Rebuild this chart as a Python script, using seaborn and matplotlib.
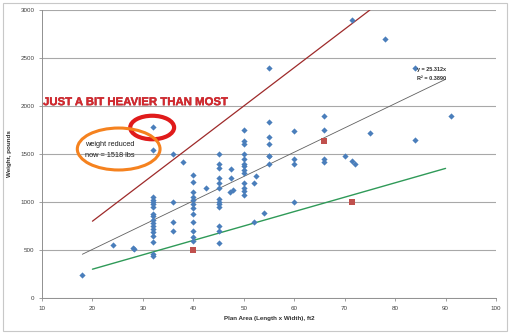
import matplotlib
matplotlib.use("Agg")
import matplotlib.pyplot as plt
import matplotlib.patheffects as pe
import seaborn as sns
import pandas as pd
from matplotlib.patches import Ellipse, Rectangle

# ---- data ----
area = [18, 24, 28, 28.3,
        32, 32, 32, 32, 32, 32, 32, 32, 32, 32, 32, 32, 32, 32, 32, 32, 32, 32,
        36, 36, 36, 36, 38,
        40, 40, 40, 40, 40, 40, 40, 40, 40, 40, 40, 40,
        42.5,
        45, 45, 45, 45, 45, 45, 45, 45, 45, 45, 45, 45, 45,
        47.4, 47.4, 47.3, 47.9,
        50, 50, 50, 50, 50, 50, 50, 50, 50, 50, 50, 50, 50,
        52, 52, 52.5, 54,
        55, 55, 55, 55, 55, 55, 55,
        60, 60, 60, 60,
        66, 66, 66, 66,
        70, 71.4, 72, 71.5, 75, 78, 84, 84, 91]
weight = [235, 550, 520, 510,
          1780, 1545, 1050, 1025, 1000, 975, 950, 875, 850, 815, 785, 750, 720, 685, 650, 580, 460, 440,
          1500, 1000, 790, 695, 1420,
          1280, 1210, 1100, 1050, 1020, 980, 940, 880, 790, 700, 640, 590,
          1150,
          1500, 1400, 1350, 1250, 1200, 1150, 1030, 1000, 975, 945, 750, 700, 570,
          1345, 1255, 1105, 1120,
          1750, 1640, 1600, 1500, 1450, 1400, 1370, 1330, 1300, 1200, 1150, 1110, 1070,
          1200, 790, 1275, 890,
          2400, 1830, 1675, 1605, 1480, 1400, 1480,
          1740, 1450, 1400, 1000,
          1900, 1750, 1450, 1420,
          1480, 1425, 1400, 2900, 1720, 2700, 2400, 1650, 1900]

red_area = [40, 66, 71.5]
red_weight = [495, 1635, 1000]

upper_x = [20, 75]
upper_y = [800, 3000]
lower_x = [20, 90]
lower_y = [300, 1350]
trend_x = [18, 90]
trend_slope = 25.312
trend_y = [trend_slope * v for v in trend_x]

x_ticks = [10, 20, 30, 40, 50, 60, 70, 80, 90, 100]
y_ticks = [0, 500, 1000, 1500, 2000, 2500, 3000]

sns.set_theme(style="white")
plt.rcParams['font.family'] = ['Liberation Sans', 'DejaVu Sans']

fig = plt.figure(figsize=(5.12, 3.34), dpi=100)
ax = fig.add_axes([42/512, 36/334, 454/512, 288/334])

# outer chart border
fig.patches.append(Rectangle((3/512, 3/334), 504/512, 328/334, transform=fig.transFigure,
                             fill=False, edgecolor='#c8c8c8', linewidth=0.8))

df = pd.DataFrame({'area': area, 'weight': weight})
dr = pd.DataFrame({'area': red_area, 'weight': red_weight})

sns.lineplot(x=upper_x, y=upper_y, ax=ax, color='#9e2a2a', linewidth=0.9)
sns.lineplot(x=lower_x, y=lower_y, ax=ax, color='#2f9a58', linewidth=1.0)
sns.lineplot(x=trend_x, y=trend_y, ax=ax, color='#606060', linewidth=0.6)

sns.scatterplot(data=df, x='area', y='weight', ax=ax, marker='D', s=10,
                color='#4a7ebb', linewidth=0, zorder=3)
sns.scatterplot(data=dr, x='area', y='weight', ax=ax, marker='s', s=16,
                color='#c0504d', linewidth=0, zorder=3)

ax.set_xlim(10, 100)
ax.set_ylim(0, 3000)
ax.set_xticks(x_ticks)
ax.set_yticks(y_ticks)
ax.set_xticklabels([str(v) for v in x_ticks], fontsize=4.5, color='#404040')
ax.set_yticklabels([str(v) for v in y_ticks], fontsize=4.5, color='#404040')
ax.tick_params(axis='both', length=2.5, width=0.6, color='#909090', pad=3,
               bottom=True, left=True, direction='out')
ax.yaxis.grid(True, color='#a8a8a8', linewidth=0.8)
ax.xaxis.grid(False)
ax.set_axisbelow(True)
for s in ['top', 'right']:
    ax.spines[s].set_visible(False)
for s in ['left', 'bottom']:
    ax.spines[s].set_color('#909090')
    ax.spines[s].set_linewidth(0.7)

ax.set_xlabel('Plan Area (Length x Width), ft2', fontsize=4.5, fontweight='bold',
              color='#303030', labelpad=4)
ax.set_ylabel('Weight, pounds', fontsize=4.5, fontweight='bold', color='#303030', labelpad=6)

# trendline label
ax.text(84.4, 2360, 'y = 25.312x', fontsize=4, color='#303030', fontweight='bold')
ax.text(84.4, 2270, 'R² = 0.3890', fontsize=4, color='#303030', fontweight='bold')

# headline
ax.text(10.2, 2040, 'JUST A BIT HEAVIER THAN MOST', fontsize=8.2, fontweight='bold',
        color='#d4282e', va='center', ha='left',
        path_effects=[pe.withStroke(linewidth=0.25, foreground='#9a1c22')])

# circles
ax.add_patch(Ellipse((31.84, 1776), 8.7, 245, fill=False, edgecolor='#e01b1b',
                     linewidth=3.0, zorder=4))
ax.add_patch(Ellipse((25.2, 1552), 16.4, 437, fill=False, edgecolor='#f5821f',
                     linewidth=2.2, zorder=5))
ax.text(18.6, 1594, 'weight reduced', fontsize=5.3, color='#202020', va='center', zorder=6)
ax.text(18.6, 1488, 'now = 1518 lbs', fontsize=5.3, color='#202020', va='center', zorder=6)

fig.savefig('out.png', dpi=100)
